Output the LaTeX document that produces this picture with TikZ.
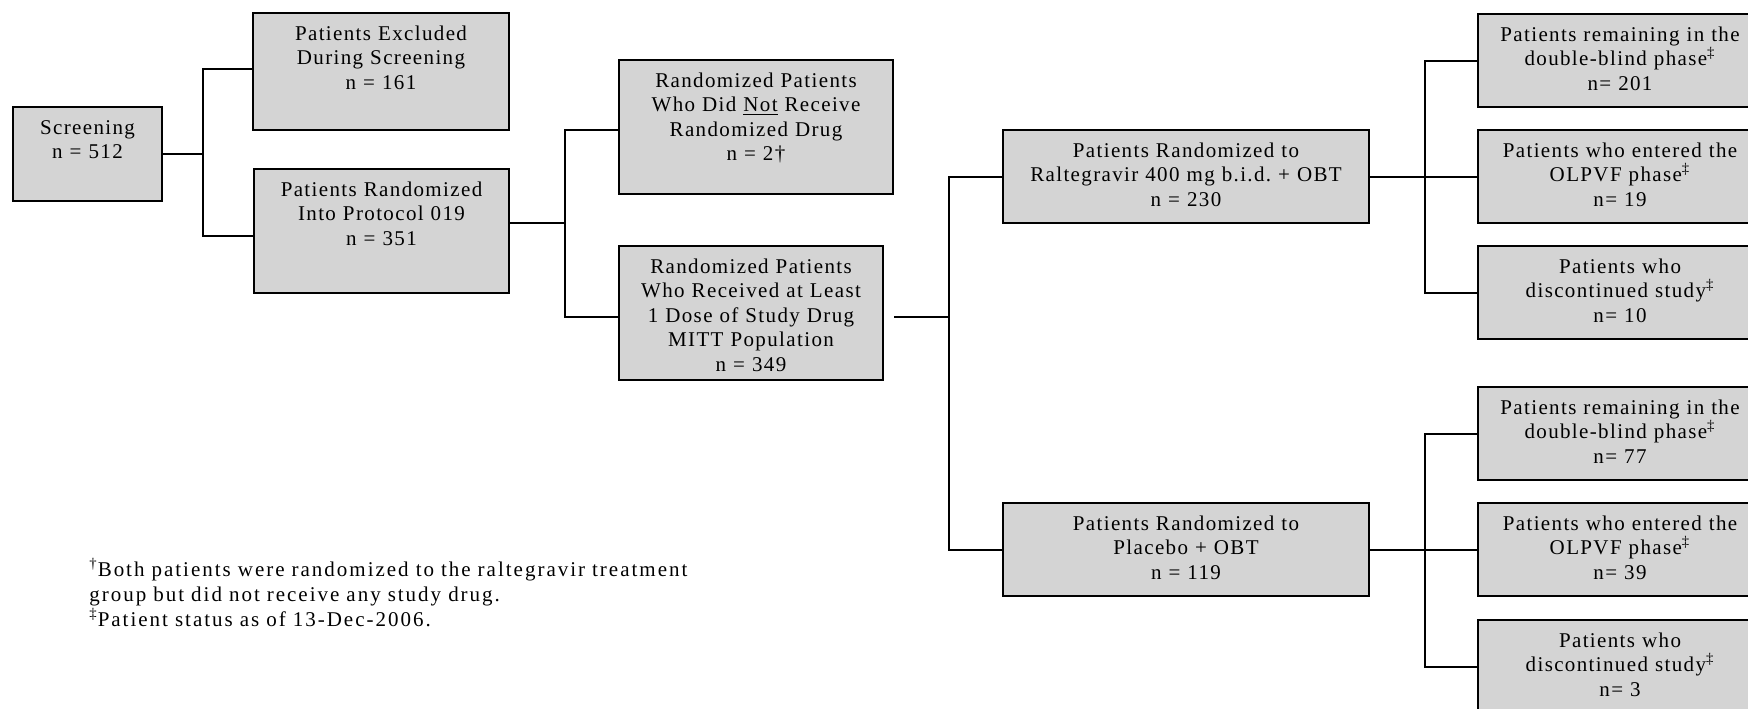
\documentclass[tikz,border=0pt]{standalone}
\usepackage{fontspec}
\setmainfont{Liberation Serif}
\newfontfamily\boxfam{Liberation Serif}[LetterSpace=6.5]
\newfontfamily\notefam{Liberation Serif}[LetterSpace=9.5]
\usetikzlibrary{calc, positioning}

\definecolor{boxgray}{RGB}{212,212,212}

\tikzset{
  flowbox/.style={draw, fill=boxgray, line width=1pt, align=center, anchor=north,
    inner xsep=2pt, inner ysep=4.5pt, text height=9pt,
    font=\boxfam\fontsize{10.5}{12.25}\selectfont},
  link/.style={line width=1pt}
}

\begin{document}
\frenchspacing
\begin{tikzpicture}[x=0.5pt, y=-0.5pt]
  \useasboundingbox (0,0) rectangle (1748,708);
  \clip (0,0) rectangle (1748,708);

  % screening stage
  \node[flowbox, text width=70.5pt, text depth=29pt] (screen) at (87.5,106) {Screening\\n = 512};
  \node[flowbox, text width=124pt, text depth=40.5pt] (excl) at (381,12) {Patients Excluded\\During Screening\\n = 161};
  \node[flowbox, text width=123.5pt, text depth=44pt] (rand) at (381.5,168) {Patients Randomized\\Into Protocol 019\\n = 351};

  % randomized patients
  \node[flowbox, text width=133pt, text depth=49pt] (norecv) at (756,59) {Randomized Patients\\Who Did \underline{Not} Receive\\Randomized Drug\\n = 2†};
  \node[flowbox, text width=128pt, text depth=49pt] (mitt) at (751,245) {Randomized Patients\\Who Received at Least\\1 Dose of Study Drug\\MITT Population\\n = 349};

  % treatment arms
  \node[flowbox, text width=179pt, text depth=28.5pt] (ralt) at (1186,129) {Patients Randomized to\\Raltegravir 400 mg b.i.d. + OBT\\n = 230};
  \node[flowbox, text width=179pt, text depth=28.5pt] (plac) at (1186,502) {Patients Randomized to\\Placebo + OBT\\n = 119};

  % status per arm
  \node[flowbox, text width=138pt, text depth=28.5pt] (raltdb) at (1620,13) {Patients remaining in the\\double-blind phase\textsuperscript{‡}\\n= 201};
  \node[flowbox, text width=138pt, text depth=28.5pt] (raltol) at (1620,129) {Patients who entered the\\OLPVF phase\textsuperscript{‡}\\n= 19};
  \node[flowbox, text width=138pt, text depth=28.5pt] (raltdc) at (1620,245) {Patients who\\discontinued study\textsuperscript{‡}\\n= 10};
  \node[flowbox, text width=138pt, text depth=28.5pt] (placdb) at (1620,386) {Patients remaining in the\\double-blind phase\textsuperscript{‡}\\n= 77};
  \node[flowbox, text width=138pt, text depth=28.5pt] (placol) at (1620,502) {Patients who entered the\\OLPVF phase\textsuperscript{‡}\\n= 39};
  \node[flowbox, text width=138pt, text depth=28.5pt] (placdc) at (1620,619) {Patients who\\discontinued study\textsuperscript{‡}\\n= 3};

  % footnotes
  \node[anchor=north west, align=left, inner sep=0pt, text width=340pt, text height=9pt,
    font=\notefam\fontsize{10.5}{12.5}\selectfont] (notes) at (89,558)
    {\textsuperscript{†}Both patients were randomized to the raltegravir treatment\\
     group but did not receive any study drug.\\
     \textsuperscript{‡}Patient status as of 13-Dec-2006.};

  % connectors
  \draw[link] (screen.east) -- ++(40,0) coordinate (sj);
  \draw[link] ([yshift=1.25pt]excl.west) -| (sj) |- ([yshift=-2.5pt]rand.west);
  \draw[link] ([yshift=4pt]rand.east) -- ++(55,0) coordinate (rj);
  \draw[link] ([yshift=-1.5pt]norecv.west) -| (rj) |- ([yshift=-2pt]mitt.west);
  \draw[link] ([xshift=5pt, yshift=-2pt]mitt.east) -- ++(55,0) coordinate (mj);
  \draw[link] (ralt.west) -| (mj) |- (plac.west);
  \draw[link] (ralt.east) -- ++(55,0) coordinate (aj);
  \draw[link] (raltdb.west) -| (aj) |- (raltdc.west);
  \draw[link] (aj) -- (raltol.west);
  \draw[link] (plac.east) -- ++(55,0) coordinate (pj);
  \draw[link] (placdb.west) -| (pj) |- (placdc.west);
  \draw[link] (pj) -- (placol.west);
\end{tikzpicture}
\end{document}
